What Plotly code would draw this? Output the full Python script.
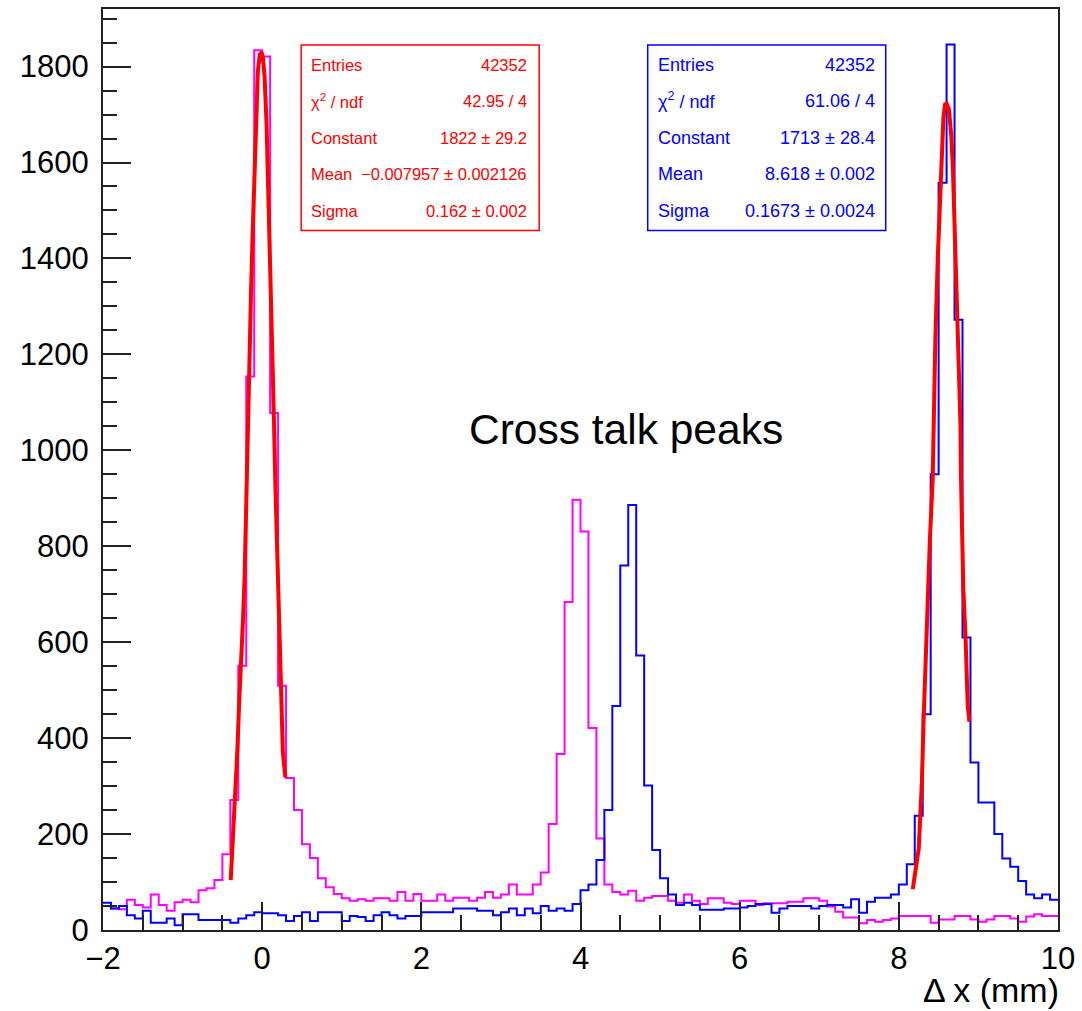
import numpy as np
import plotly.graph_objects as go

# ---------------- data ----------------
bin_low = -2.0
bin_width = 0.1

magenta_counts = [
    50, 45, 43, 63, 52, 47, 74, 52, 40, 58,
    63, 58, 83, 87, 104, 158, 271, 551, 1154, 1834,
    1821, 1078, 509, 317, 250, 179, 150, 108, 89, 75,
    66, 61, 64, 61, 66, 66, 61, 79, 61, 75,
    61, 61, 74, 61, 67, 67, 61, 67, 79, 67,
    74, 95, 74, 74, 95, 120, 221, 367, 684, 897,
    831, 421, 191, 95, 79, 74, 82, 61, 67, 71,
    71, 61, 57, 74, 61, 54, 66, 66, 57, 54,
    61, 61, 52, 56, 56, 56, 59, 59, 66, 66,
    61, 49, 38, 26, 26, 14, 21, 17, 21, 24,
    29, 29, 29, 29, 15, 22, 22, 29, 29, 22,
    17, 22, 29, 29, 24, 17, 28, 33, 29, 29,
]

blue_counts = [
    57, 45, 50, 31, 24, 40, 15, 15, 24, 10,
    33, 33, 21, 21, 21, 21, 15, 24, 31, 37,
    35, 35, 31, 19, 29, 37, 19, 37, 37, 37,
    19, 29, 27, 19, 31, 37, 31, 24, 29, 29,
    37, 37, 37, 37, 45, 45, 45, 40, 40, 31,
    37, 45, 31, 45, 35, 50, 40, 45, 40, 54,
    83, 95, 146, 250, 467, 760, 886, 572, 301, 167,
    108, 74, 52, 57, 52, 42, 42, 42, 45, 45,
    47, 50, 54, 54, 36, 45, 50, 50, 50, 45,
    50, 52, 52, 47, 64, 36, 59, 67, 67, 74,
    95, 137, 238, 450, 950, 1558, 1846, 1272, 610, 349,
    266, 266, 200, 149, 132, 102, 74, 66, 74, 63,
]

fit1_x = [-0.395, -0.38, -0.35, -0.33, -0.31, -0.29, -0.26, -0.24, -0.22, -0.20,
          -0.18, -0.16, -0.14, -0.12, -0.095, -0.075, -0.054, -0.03, -0.008, 0.01,
          0.03, 0.055, 0.075, 0.096, 0.11, 0.125, 0.146, 0.167, 0.1875, 0.209,
          0.22, 0.24, 0.26, 0.292]
fit1_y = [104, 150, 225, 290, 380, 470, 560, 650, 740, 900,
          1080, 1250, 1330, 1450, 1578, 1700, 1790, 1825, 1830, 1818,
          1780, 1682, 1560, 1430, 1330, 1234, 1078, 920, 780, 670,
          600, 470, 370, 318]

fit2_x = [8.175, 8.217, 8.25, 8.27, 8.29, 8.31, 8.33, 8.36, 8.39, 8.425,
          8.44, 8.46, 8.49, 8.52, 8.54, 8.56, 8.58, 8.60, 8.63, 8.66,
          8.68, 8.70, 8.73, 8.75, 8.775, 8.78, 8.79, 8.81, 8.84, 8.866, 8.887]
fit2_y = [85, 129, 170, 240, 309, 431, 542, 650, 813, 938,
          1112, 1241, 1404, 1543, 1620, 1693, 1721, 1723, 1710, 1654,
          1585, 1460, 1342, 1182, 1050, 950, 876, 713, 601, 466, 434]

x_tick_vals = [-2, 0, 2, 4, 6, 8, 10]
y_tick_vals = [0, 200, 400, 600, 800, 1000, 1200, 1400, 1600, 1800]

stat_labels = ["Entries", "χ<sup>2</sup> / ndf", "Constant", "Mean", "Sigma"]
stat_red_values = ["42352", "42.95 / 4", "1822 ± 29.2", "−0.007957 ± 0.002126", "0.162 ± 0.002"]
stat_blue_values = ["42352", "61.06 / 4", "1713 ± 28.4", "8.618 ± 0.002", "0.1673 ± 0.0024"]

# ---------------- layout helpers ----------------
W, H = 1082, 1011
PL, PR, PT, PB = 103, 1062, 7, 930
FONT = "Liberation Sans, Arial, Helvetica, sans-serif"


def fx(p):
    return (p - PL) / (PR - PL)


def fy(p):
    return (PB - p) / (PB - PT)


def step_xy(counts):
    n = len(counts)
    edges = [bin_low + bin_width * i for i in range(n + 1)]
    return edges, list(counts) + [counts[-1]]


fig = go.Figure()

mx, my = step_xy(magenta_counts)
fig.add_trace(go.Scatter(x=mx, y=my, mode="lines", line=dict(color="#ff00ff", width=2, shape="hv"),
                         hoverinfo="skip", showlegend=False))
bx, by = step_xy(blue_counts)
fig.add_trace(go.Scatter(x=bx, y=by, mode="lines", line=dict(color="#0000ff", width=2, shape="hv"),
                         hoverinfo="skip", showlegend=False))
fig.add_trace(go.Scatter(x=fit1_x, y=fit1_y, mode="lines", line=dict(color="#ff0000", width=4),
                         hoverinfo="skip", showlegend=False))
fig.add_trace(go.Scatter(x=fit2_x, y=fit2_y, mode="lines", line=dict(color="#ff0000", width=4),
                         hoverinfo="skip", showlegend=False))

shapes = []
annotations = []


def stat_box(x0, x1, y0, y1, color, values, size, tx_left, tx_right, rows_y):
    shapes.append(dict(type="rect", xref="paper", yref="paper",
                       x0=fx(x0), x1=fx(x1), y0=fy(y1), y1=fy(y0),
                       line=dict(color=color, width=1.5), fillcolor="white", layer="above"))
    for lab, val, yy in zip(stat_labels, values, rows_y):
        annotations.append(dict(xref="paper", yref="paper", x=fx(tx_left), y=fy(yy), text=lab,
                                showarrow=False, xanchor="left", yanchor="middle",
                                font=dict(family=FONT, size=size, color=color)))
        annotations.append(dict(xref="paper", yref="paper", x=fx(tx_right), y=fy(yy), text=val,
                                showarrow=False, xanchor="right", yanchor="middle",
                                font=dict(family=FONT, size=size, color=color)))


rows = [63, 99, 136, 172, 209]
stat_box(302, 541, 43, 229, "#ff0000", stat_red_values, 16.5, 310, 531, rows)
stat_box(650, 889, 43, 229, "#0000ff", stat_blue_values, 18, 658, 880, rows)

annotations.append(dict(xref="paper", yref="paper", x=fx(628), y=fy(428), text="Cross talk peaks",
                        showarrow=False, xanchor="center", yanchor="middle",
                        font=dict(family=FONT, size=42.5, color="black")))
annotations.append(dict(xref="paper", yref="paper", x=fx(1064), y=fy(990), text="Δ x (mm)",
                        showarrow=False, xanchor="right", yanchor="middle", borderpad=0,
                        font=dict(family=FONT, size=34, color="black")))

axis_common = dict(showgrid=False, zeroline=False, showline=True, linecolor="#222222", linewidth=2,
                   mirror=True, ticks="inside", tickcolor="#222222", tickwidth=1.5,
                   tickfont=dict(family=FONT, size=31, color="black"))

fig.update_layout(
    width=W, height=H,
    margin=dict(l=PL, r=W - PR, t=PT, b=H - PB, pad=0),
    paper_bgcolor="white", plot_bgcolor="white",
    xaxis=dict(range=[-2, 10], tickvals=x_tick_vals, ticklen=28,
               minor=dict(ticks="inside", ticklen=15, dtick=0.5, tickwidth=1.5, tickcolor="#222222", showgrid=False),
               **axis_common),
    yaxis=dict(range=[0, 1920], tickvals=y_tick_vals, ticklen=28,
               minor=dict(ticks="inside", ticklen=14, dtick=50, tickwidth=1.5, tickcolor="#222222", showgrid=False),
               ticklabelstandoff=6,
               **axis_common),
    shapes=shapes, annotations=annotations,
)

fig.write_html("out.html")
